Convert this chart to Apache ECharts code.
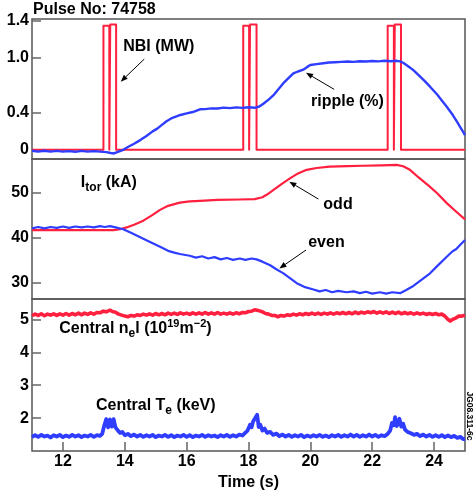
<!DOCTYPE html>
<html>
<head>
<meta charset="utf-8">
<script src="https://cdn.jsdelivr.net/npm/echarts@6/dist/echarts.min.js"></script>
<style>
  html, body { margin: 0; padding: 0; background: #fff; }
  #chart { width: 475px; height: 496px; }
</style>
</head>
<body>
<div id="chart"></div>
<script>
// Tick positions and labels
const timeTicks = [12, 14, 16, 18, 20, 22, 24];
const rippleTicks = [0, 0.4, 1.0, 1.4];
const rippleTickLabels = ['0', '0.4', '1.0', '1.4'];
const currentTicks = [30, 40, 50];
const profileTicks = [2, 3, 4, 5];

// NBI power (MW): three double pulses
const nbiPower = [
  [11.0, 0], [13.31, 0], [13.31, 1.346], [13.50, 1.346], [13.50, 0], [13.53, 0], [13.53, 1.36], [13.72, 1.36], [13.72, 0],
  [17.83, 0], [17.83, 1.346], [18.02, 1.346], [18.02, 0], [18.05, 0], [18.05, 1.36], [18.26, 1.36], [18.26, 0],
  [22.50, 0], [22.50, 1.346], [22.70, 1.346], [22.70, 0], [22.73, 0], [22.73, 1.36], [22.93, 1.36], [22.93, 0],
  [25.0, 0]
];

// Field ripple (%)
const ripplePct = [
  [11.0, -0.01], [11.2, -0.02], [11.4, -0.01], [11.6, -0.02], [11.8, -0.012], [12.0, -0.02], [12.2, -0.015],
  [12.4, -0.022], [12.6, -0.012], [12.8, -0.02], [13.0, -0.015], [13.2, -0.02], [13.4, -0.025], [13.55, -0.035],
  [13.65, -0.04], [13.8, -0.02], [13.95, 0.0], [14.1, 0.03], [14.3, 0.065], [14.5, 0.105], [14.7, 0.15],
  [14.9, 0.2], [15.05, 0.23], [15.2, 0.27], [15.35, 0.31], [15.5, 0.34], [15.65, 0.36], [15.8, 0.378],
  [16.0, 0.395], [16.2, 0.41], [16.43, 0.44], [16.6, 0.442], [16.8, 0.45], [17.0, 0.448], [17.2, 0.458],
  [17.4, 0.452], [17.6, 0.46], [17.8, 0.455], [18.0, 0.462], [18.2, 0.456], [18.35, 0.47], [18.48, 0.5],
  [18.65, 0.545], [18.8, 0.59], [19.0, 0.67], [19.12, 0.72], [19.3, 0.78], [19.45, 0.83], [19.6, 0.85],
  [19.77, 0.87], [19.9, 0.9], [20.0, 0.92], [20.2, 0.93], [20.42, 0.94], [20.6, 0.947], [20.8, 0.95],
  [21.0, 0.954], [21.2, 0.958], [21.4, 0.955], [21.6, 0.962], [21.8, 0.958], [22.0, 0.964], [22.2, 0.96],
  [22.4, 0.966], [22.6, 0.962], [22.8, 0.966], [22.9, 0.96], [23.0, 0.945], [23.15, 0.91], [23.33, 0.865],
  [23.5, 0.81], [23.7, 0.745], [23.87, 0.685], [24.1, 0.6], [24.25, 0.535], [24.41, 0.467], [24.6, 0.38],
  [24.75, 0.3], [24.84, 0.25], [24.95, 0.19], [25.0, 0.16]
];

// Toroidal current (kA), odd and even coils
const itorOdd = [
  [11.0, 41.6], [12.0, 41.6], [13.0, 41.6], [13.63, 41.6], [13.85, 41.8], [14.06, 42.2], [14.3, 42.8],
  [14.6, 43.7], [14.9, 45.0], [15.14, 46.1], [15.4, 47.0], [15.78, 47.7], [16.1, 48.0], [16.43, 48.1],
  [17.0, 48.3], [17.72, 48.4], [18.2, 48.5], [18.45, 48.9], [18.6, 49.5], [18.8, 50.5], [19.1, 52.0],
  [19.34, 53.1], [19.6, 54.2], [19.88, 55.0], [20.2, 55.4], [20.63, 55.7], [21.2, 55.8], [21.71, 55.9],
  [22.3, 56.0], [22.79, 56.1], [23.0, 55.8], [23.22, 55.0], [23.5, 53.3], [23.87, 51.2], [24.1, 49.8],
  [24.41, 47.6], [24.7, 45.8], [25.0, 44.0]
];
const itorEven = [
  [11.0, 42.0], [11.2, 42.3], [11.4, 42.0], [11.6, 42.3], [11.8, 42.1], [12.0, 42.4], [12.2, 42.1],
  [12.4, 42.4], [12.6, 42.2], [12.8, 42.4], [13.0, 42.2], [13.2, 42.5], [13.35, 42.3], [13.52, 42.5],
  [13.7, 42.2], [13.95, 41.8], [14.2, 41.0], [14.5, 40.0], [14.8, 39.0], [15.14, 37.9], [15.4, 37.0],
  [15.6, 36.6], [15.78, 36.3], [16.1, 35.9], [16.3, 35.5], [16.5, 35.8], [16.7, 35.3], [16.9, 35.6],
  [17.1, 35.1], [17.3, 35.4], [17.5, 35.0], [17.72, 35.3], [17.9, 35.0], [18.1, 35.3], [18.26, 35.1],
  [18.45, 34.6], [18.7, 33.8], [18.9, 32.9], [19.13, 32.0], [19.35, 30.9], [19.56, 29.8], [19.8, 29.0],
  [20.1, 28.4], [20.3, 28.0], [20.5, 28.3], [20.7, 27.8], [20.9, 28.1], [21.17, 27.8], [21.4, 28.0],
  [21.6, 27.6], [21.8, 27.9], [22.0, 27.5], [22.25, 27.8], [22.45, 27.5], [22.65, 27.8], [22.9, 27.6],
  [23.1, 28.3], [23.33, 29.2], [23.6, 30.6], [23.87, 32.0], [24.1, 33.6], [24.41, 35.7], [24.6, 36.9],
  [24.72, 37.4], [24.84, 38.3], [25.0, 39.4]
];

// Central line density (10^19 m^-2)
const centralNe = [
  [11.0, 5.11], [11.1, 5.16], [11.2, 5.12], [11.3, 5.17], [11.4, 5.11], [11.5, 5.16], [11.6, 5.13],
  [11.7, 5.17], [11.8, 5.12], [11.9, 5.17], [12.0, 5.13], [12.1, 5.18], [12.2, 5.13], [12.3, 5.18],
  [12.4, 5.14], [12.5, 5.19], [12.6, 5.14], [12.7, 5.19], [12.8, 5.15], [12.9, 5.2], [13.0, 5.16],
  [13.1, 5.21], [13.2, 5.2], [13.3, 5.25], [13.4, 5.23], [13.52, 5.28], [13.6, 5.24], [13.7, 5.22],
  [13.8, 5.16], [13.9, 5.13], [14.0, 5.1], [14.1, 5.08], [14.2, 5.12], [14.3, 5.1], [14.4, 5.14],
  [14.5, 5.12], [14.6, 5.16], [14.7, 5.13], [14.8, 5.17], [14.9, 5.13], [15.0, 5.18], [15.1, 5.14],
  [15.2, 5.18], [15.3, 5.14], [15.4, 5.19], [15.5, 5.15], [15.6, 5.19], [15.7, 5.15], [15.8, 5.2],
  [15.9, 5.16], [16.0, 5.19], [16.1, 5.15], [16.2, 5.2], [16.3, 5.16], [16.4, 5.2], [16.5, 5.16],
  [16.6, 5.21], [16.7, 5.16], [16.8, 5.2], [16.9, 5.16], [17.0, 5.21], [17.1, 5.16], [17.2, 5.19],
  [17.3, 5.16], [17.4, 5.2], [17.5, 5.16], [17.6, 5.2], [17.7, 5.17], [17.8, 5.21], [17.9, 5.2],
  [18.0, 5.24], [18.1, 5.25], [18.2, 5.29], [18.26, 5.3], [18.35, 5.26], [18.45, 5.23], [18.55, 5.18],
  [18.65, 5.16], [18.75, 5.12], [18.85, 5.12], [18.95, 5.08], [19.05, 5.12], [19.15, 5.1], [19.25, 5.14],
  [19.35, 5.12], [19.45, 5.16], [19.55, 5.13], [19.65, 5.17], [19.75, 5.14], [19.85, 5.18], [19.95, 5.15],
  [20.05, 5.19], [20.15, 5.15], [20.25, 5.19], [20.35, 5.15], [20.45, 5.19], [20.55, 5.16], [20.65, 5.2],
  [20.75, 5.16], [20.85, 5.2], [20.95, 5.17], [21.05, 5.21], [21.15, 5.17], [21.25, 5.21], [21.35, 5.17],
  [21.45, 5.22], [21.55, 5.18], [21.65, 5.22], [21.75, 5.19], [21.85, 5.23], [21.95, 5.2], [22.05, 5.24],
  [22.15, 5.19], [22.25, 5.23], [22.35, 5.19], [22.45, 5.23], [22.55, 5.18], [22.65, 5.22], [22.75, 5.18],
  [22.85, 5.22], [22.95, 5.17], [23.05, 5.21], [23.15, 5.17], [23.25, 5.2], [23.35, 5.16], [23.45, 5.2],
  [23.55, 5.16], [23.65, 5.19], [23.75, 5.15], [23.85, 5.18], [23.95, 5.15], [24.05, 5.18], [24.15, 5.14],
  [24.25, 5.16], [24.35, 5.1], [24.45, 5.0], [24.52, 4.95], [24.6, 5.0], [24.7, 5.04], [24.8, 5.1],
  [24.9, 5.1], [25.0, 5.13]
];

// Central electron temperature (keV)
const centralTe = [
  [11.0, 1.42], [11.1, 1.48], [11.2, 1.43], [11.3, 1.49], [11.4, 1.44], [11.5, 1.47], [11.6, 1.41],
  [11.7, 1.48], [11.8, 1.44], [11.9, 1.49], [12.0, 1.42], [12.1, 1.47], [12.2, 1.43], [12.3, 1.49],
  [12.4, 1.44], [12.5, 1.48], [12.6, 1.42], [12.7, 1.47], [12.8, 1.44], [12.9, 1.49], [13.0, 1.43],
  [13.1, 1.48], [13.2, 1.46], [13.27, 1.52], [13.33, 1.75], [13.4, 1.97], [13.46, 1.72], [13.52, 1.96],
  [13.58, 1.74], [13.64, 1.97], [13.7, 1.72], [13.78, 1.62], [13.85, 1.55], [13.92, 1.58], [14.0, 1.48],
  [14.1, 1.52], [14.2, 1.45], [14.3, 1.5], [14.4, 1.44], [14.5, 1.49], [14.6, 1.43], [14.7, 1.48],
  [14.8, 1.44], [14.9, 1.49], [15.0, 1.42], [15.1, 1.47], [15.2, 1.44], [15.3, 1.49], [15.4, 1.43],
  [15.5, 1.48], [15.6, 1.42], [15.7, 1.47], [15.8, 1.44], [15.9, 1.49], [16.0, 1.43], [16.1, 1.48],
  [16.2, 1.42], [16.3, 1.47], [16.4, 1.44], [16.5, 1.49], [16.6, 1.43], [16.7, 1.48], [16.8, 1.44],
  [16.9, 1.47], [17.0, 1.42], [17.1, 1.48], [17.2, 1.44], [17.3, 1.49], [17.4, 1.43], [17.5, 1.48],
  [17.6, 1.44], [17.7, 1.5], [17.8, 1.47], [17.9, 1.56], [17.97, 1.62], [18.05, 1.8], [18.1, 1.72],
  [18.15, 1.9], [18.2, 1.86], [18.28, 2.1], [18.33, 1.73], [18.38, 1.8], [18.45, 1.62], [18.52, 1.68],
  [18.6, 1.55], [18.7, 1.58], [18.8, 1.49], [18.9, 1.53], [19.0, 1.45], [19.1, 1.5], [19.2, 1.44],
  [19.3, 1.49], [19.4, 1.43], [19.5, 1.48], [19.6, 1.44], [19.7, 1.49], [19.8, 1.42], [19.9, 1.47],
  [20.0, 1.43], [20.1, 1.48], [20.2, 1.44], [20.3, 1.49], [20.4, 1.43], [20.5, 1.47], [20.6, 1.42],
  [20.7, 1.48], [20.8, 1.44], [20.9, 1.49], [21.0, 1.43], [21.1, 1.48], [21.2, 1.44], [21.3, 1.5],
  [21.4, 1.44], [21.5, 1.49], [21.6, 1.43], [21.7, 1.48], [21.8, 1.44], [21.9, 1.5], [22.0, 1.44],
  [22.1, 1.49], [22.2, 1.43], [22.3, 1.48], [22.4, 1.45], [22.5, 1.52], [22.58, 1.62], [22.64, 1.85],
  [22.7, 1.78], [22.74, 2.03], [22.8, 1.76], [22.88, 1.98], [22.94, 1.74], [23.0, 1.83], [23.06, 1.65],
  [23.15, 1.58], [23.25, 1.54], [23.35, 1.49], [23.45, 1.52], [23.55, 1.45], [23.65, 1.5], [23.75, 1.44],
  [23.85, 1.49], [23.95, 1.43], [24.05, 1.48], [24.15, 1.43], [24.25, 1.48], [24.35, 1.42], [24.45, 1.47],
  [24.55, 1.42], [24.65, 1.46], [24.75, 1.4], [24.85, 1.43], [24.95, 1.36], [25.0, 1.37]
];

const RED = '#ff1f3f';
const BLUE = '#2e3dff';
const FONT = '"Liberation Sans", Arial, Helvetica, sans-serif';
const BORDER = '#555';

const chart = echarts.init(document.getElementById('chart'), null, { renderer: 'canvas' });

function panelGrid(top, height) {
  return {
    left: 32, right: 10, top: top, height: height,
    show: true, borderColor: BORDER, borderWidth: 1.5, backgroundColor: 'transparent'
  };
}

function hiddenX(gridIndex) {
  return {
    type: 'value', gridIndex: gridIndex, min: 11, max: 25,
    axisLine: { show: false }, axisTick: { show: false },
    axisLabel: { show: false }, splitLine: { show: false }
  };
}

function yAxisFor(gridIndex, min, max, ticks, labels) {
  return {
    type: 'value', gridIndex: gridIndex, min: min, max: max,
    axisLine: { show: false },
    splitLine: { show: false },
    axisTick: {
      show: true, inside: true, length: 9, customValues: ticks,
      lineStyle: { color: '#666', width: 1.5 }
    },
    axisLabel: {
      show: true, customValues: ticks, margin: 3,
      color: '#000', fontSize: 16, fontWeight: 'bold', fontFamily: FONT,
      formatter: function (v) {
        if (labels) {
          const i = ticks.indexOf(v);
          return i >= 0 ? labels[i] : '';
        }
        return String(v);
      }
    }
  };
}

function lineSeries(data, xi, color, width) {
  return {
    type: 'line', data: data, xAxisIndex: xi, yAxisIndex: xi,
    showSymbol: false, symbol: 'none', smooth: false,
    lineStyle: { color: color, width: width, join: 'round' },
    animation: false, silent: true
  };
}

chart.setOption({
  animation: false,
  backgroundColor: '#fff',
  grid: [panelGrid(19, 140), panelGrid(159, 140), panelGrid(299, 152)],
  xAxis: [
    hiddenX(0), hiddenX(1),
    {
      type: 'value', gridIndex: 2, min: 11, max: 25,
      axisLine: { show: false }, splitLine: { show: false },
      axisTick: {
        show: true, inside: true, length: 9, customValues: timeTicks,
        lineStyle: { color: '#666', width: 1.5 }
      },
      axisLabel: {
        show: true, customValues: timeTicks, margin: 3,
        color: '#000', fontSize: 16, fontWeight: 'bold', fontFamily: FONT
      },
      name: 'Time (s)', nameLocation: 'middle', nameGap: 24,
      nameTextStyle: { color: '#000', fontSize: 16, fontWeight: 'bold', fontFamily: FONT }
    }
  ],
  yAxis: [
    yAxisFor(0, -0.1, 1.42, rippleTicks, rippleTickLabels),
    yAxisFor(1, 26.3, 57.4, currentTicks, null),
    yAxisFor(2, 1.0, 5.62, profileTicks, null)
  ],
  series: [
    lineSeries(nbiPower, 0, RED, 2),
    lineSeries(ripplePct, 0, BLUE, 2.4),
    lineSeries(itorOdd, 1, RED, 2.2),
    lineSeries(itorEven, 1, BLUE, 2.2),
    lineSeries(centralNe, 2, RED, 3.6),
    lineSeries(centralTe, 2, BLUE, 3.8)
  ]
});

// Annotation anchors in data coordinates (time, value) of each panel
const textNotes = [
  { grid: 0, at: [13.95, 1.12], text: 'NBI (MW)' },
  { grid: 0, at: [20.02, 0.52], text: 'ripple (%)' },
  { grid: 1, at: [12.58, 52.07], text: 'I{sub|tor} (kA)' },
  { grid: 1, at: [20.42, 47.18], text: 'odd' },
  { grid: 1, at: [19.93, 38.73], text: 'even' },
  { grid: 2, at: [11.88, 4.73], text: 'Central n{sub|e}l (10{sup|19}m{sup|\u22122})' },
  { grid: 2, at: [13.07, 2.39], text: 'Central T{sub|e} (keV)' }
];
const arrowNotes = [
  { grid: 0, from: [14.63, 0.985], to: [13.87, 0.74] },
  { grid: 0, from: [20.77, 0.656], to: [19.86, 0.836] },
  { grid: 1, from: [20.26, 48.5], to: [19.32, 52.36] },
  { grid: 1, from: [19.86, 37.18], to: [19.0, 33.1] }
];

function px(grid, pt) {
  return chart.convertToPixel({ xAxisIndex: grid, yAxisIndex: grid }, pt);
}

const richStyles = {
  sub: { fontSize: 12, fontWeight: 'bold', fontFamily: FONT, fill: '#000', padding: [10, 0, 0, 0] },
  sup: { fontSize: 11, fontWeight: 'bold', fontFamily: FONT, fill: '#000', padding: [0, 0, 9, 0] }
};

const graphics = [];
textNotes.forEach(function (n) {
  const p = px(n.grid, n.at);
  graphics.push({
    type: 'text', x: p[0], y: p[1], silent: true,
    style: {
      text: n.text, fill: '#000',
      fontSize: 16, fontWeight: 'bold', fontFamily: FONT,
      align: 'left', verticalAlign: 'middle',
      textAlign: 'left', textVerticalAlign: 'middle',
      rich: richStyles
    }
  });
});

arrowNotes.forEach(function (a) {
  const p0 = px(a.grid, a.from);
  const p1 = px(a.grid, a.to);
  const dx = p1[0] - p0[0], dy = p1[1] - p0[1];
  const len = Math.sqrt(dx * dx + dy * dy);
  const ux = dx / len, uy = dy / len;
  const headLen = 7, headHalf = 2.8;
  const bx = p1[0] - ux * headLen, by = p1[1] - uy * headLen;
  graphics.push({
    type: 'line', silent: true,
    shape: { x1: p0[0], y1: p0[1], x2: bx, y2: by },
    style: { stroke: '#000', lineWidth: 1 }
  });
  graphics.push({
    type: 'polygon', silent: true,
    shape: { points: [[p1[0], p1[1]], [bx - uy * headHalf, by + ux * headHalf], [bx + uy * headHalf, by - ux * headHalf]] },
    style: { fill: '#000' }
  });
});

// Title and figure reference tag
graphics.push({
  type: 'text', x: 33, y: 9.5, silent: true,
  style: {
    text: 'Pulse No: 74758', fill: '#000', fontSize: 16, fontWeight: 'bold', fontFamily: FONT,
    align: 'left', verticalAlign: 'middle', textAlign: 'left', textVerticalAlign: 'middle'
  }
});
graphics.push({
  type: 'text', x: 469, y: 416, rotation: -Math.PI / 2, silent: true,
  style: {
    text: 'JG08.311-6c', fill: '#000', fontSize: 8.5, fontWeight: 'bold', fontFamily: FONT,
    align: 'center', verticalAlign: 'middle', textAlign: 'center', textVerticalAlign: 'middle'
  }
});

chart.setOption({ graphic: graphics });
</script>
</body>
</html>
